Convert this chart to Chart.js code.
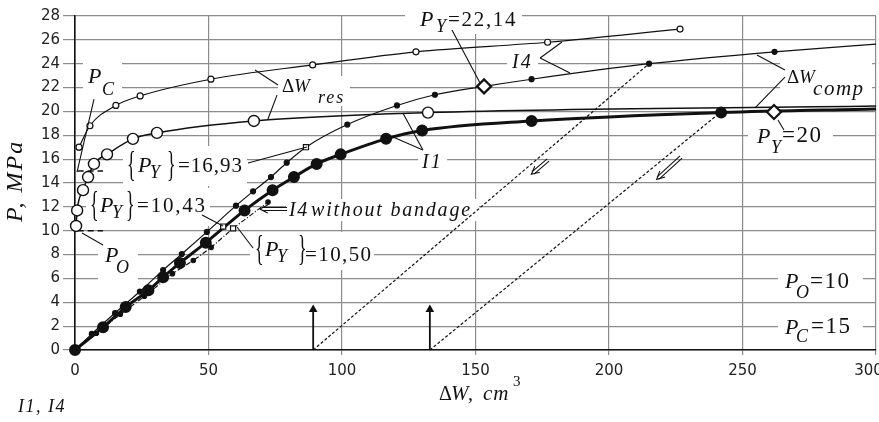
<!DOCTYPE html>
<html>
<head>
<meta charset="utf-8">
<script src="https://cdn.jsdelivr.net/npm/chart.js@4.4.1/dist/chart.umd.min.js"></script>
<style>
  html, body { margin: 0; padding: 0; background: #fff; }
  canvas { display: block; }
</style>
</head>
<body>
<canvas id="chart" width="879" height="422"></canvas>
<script>
// ΔW_res curve (small open circles)
const resX = [1.5, 5.6, 15.3, 24.4, 50.9, 89, 127.7, 177, 226.6];
const resY = [17.0, 18.8, 20.5, 21.3, 22.7, 23.9, 25.0, 25.8, 26.9];

// ΔW_comp curve (large open circles)
const compX = [0.4, 0.8, 3, 4.9, 7.1, 12, 21.7, 30.7, 67, 132.2, 300];
const compY = [10.4, 11.7, 13.4, 14.5, 15.6, 16.4, 17.7, 18.2, 19.2, 19.9, 20.45];

// I1 (thick, large dots)
const i1X = [0, 10.5, 19, 27.5, 33, 39.3, 49, 63.5, 74, 82, 90.5, 99.5, 116.5, 130, 171, 242, 300];
const i1Y = [0, 1.9, 3.6, 5.0, 6.1, 7.3, 9.0, 11.7, 13.4, 14.5, 15.6, 16.4, 17.7, 18.4, 19.2, 19.9, 20.2];

// I4 (thin, small dots)
const i4X = [0, 6.3, 15, 24.3, 33, 40, 49.4, 60.3, 66.7, 73.4, 79.3, 86.5, 102, 120.6, 134.8, 153.2, 171, 215, 262, 300];
const i4Y = [0, 1.35, 3.1, 4.9, 6.7, 8.05, 9.9, 12.1, 13.3, 14.5, 15.7, 17.0, 18.9, 20.5, 21.4, 22.1, 22.7, 24.0, 25.0, 25.65];

// I4 without bandage (dash-dot)
const nbX = [0, 8, 17, 26, 36.5, 44.3, 51, 59.2, 72.3];
const nbY = [0, 1.4, 3.0, 4.5, 6.4, 7.5, 8.6, 10.2, 12.4];

// unloading lines
const unl1X = [89.2, 215], unl1Y = [0, 24.0];
const unl2X = [132.9, 241.6], unl2Y = [0, 19.9];
const markX = [89.2, 132.9];
const markTop = 3.4;

// {P_Y} squares and P_Y diamonds
const sqX = [55.5, 59.2, 86.5], sqY = [10.35, 10.2, 17.0];
const pyX = [153.2, 261.8], pyY = [22.1, 19.95];

// P_O, P_C levels
const pO = 10, pC = 15;

const xTicks = [0, 50, 100, 150, 200, 250, 300];
const yTicks = [0, 2, 4, 6, 8, 10, 12, 14, 16, 18, 20, 22, 24, 26, 28];

const pts = (xs, ys) => xs.map((x, i) => ({ x, y: ys[i] }));

const SERIF = '"Liberation Serif", "DejaVu Serif", serif';
const fP = 'italic 22px ' + SERIF;
const fS = 'italic 18px ' + SERIF;
const fN = '21px ' + SERIF;
const fN2 = '23px ' + SERIF;
const fB = '36px ' + SERIF;
const fI = 'italic 20px ' + SERIF;

// text notes: anchor in data coords, background box and pieces in px offsets
// piece: [text, font, dx, dy, xscale, letterSpacing]
const notes = [
  { at: [4.87, 22.38], bg: [-5, -23, 34, 14], segs: [['P', fP, 0, 0], ['C', fS, 14, 12]] },
  { at: [11.24, 7.38], bg: [-7, -26, 33, 20], segs: [['P', fP, 0, 0], ['O', fS, 11, 11]] },
  { at: [77.53, 21.63], bg: [-4, -16, 68, 14], segs: [['Δ', '19px ' + SERIF, 0, 0], ['W', 'italic 19px ' + SERIF, 12, 0], ['res', fS, 36, 11, 0, 2]] },
  { at: [129.2, 27.16], bg: [-15, -22, 102, 8], segs: [['P', fP, 0, 0], ['Y', fS, 16, 6], ['=22,14', fN, 28, 0, 0, 1.7]] },
  { at: [163.7, 23.64], bg: [-5, -16, 26, 4], segs: [['I4', fI, 0, 0, 0, 2]] },
  { at: [266.7, 22.38], bg: [-7, -25, 85, 15], segs: [['Δ', '19px ' + SERIF, 0, 0], ['W', 'italic 19px ' + SERIF, 12, 0], ['comp', 'italic 21px ' + SERIF, 26, 12, 0, 1.5]] },
  { at: [255.4, 17.35], bg: [-9, -21, 76, 13], segs: [['P', fP, 0, 0], ['Y', fS, 14, 10], ['=20', fN2, 25, -1, 0, 1.5]] },
  { at: [130.0, 15.26], bg: [-4, -22, 25, 4], segs: [['I1', fI, 0, 0, 0, 2]] },
  { at: [19.48, 14.92], bg: [-4, -26, 120, 14], segs: [['{', fB, 0, 4, 0.5], ['P', fP, 11, 0], ['Y', fS, 23, 6], ['}', fB, 40, 4, 0.5], ['=16,93', fN, 51, 0, 0, 1]] },
  { at: [5.62, 11.57], bg: [-4, -24, 120, 14], segs: [['{', fB, 0, 4, 0.5], ['P', fP, 10, 0], ['Y', fS, 22, 6], ['}', fB, 36, 4, 0.5], ['=10,43', fN, 47, 0, 0, 1.8]] },
  { at: [67.42, 7.88], bg: [-5, -24, 119, 14], segs: [['{', fB, 0, 4, 0.5], ['P', fP, 10, 0], ['Y', fS, 22, 6], ['}', fB, 43, 4, 0.5], ['=10,50', fN, 50, 5, 0, 1.4]] },
  { at: [80.15, 11.23], bg: [-3, -17, 190, 5], segs: [['I4', fI, 0, 0, 0, 1.5], ['without bandage', 'italic 20px ' + SERIF, 22, 0, 0, 1.8]] },
  { at: [265.9, 5.2], bg: [-7, -22, 78, 12], segs: [['P', fP, 0, 0], ['O', fS, 11, 10], ['=10', fN2, 25, 0, 0, 1.5]] },
  { at: [265.9, 1.34], bg: [-7, -22, 78, 12], segs: [['P', fP, 0, 0], ['C', fS, 11, 8], ['=15', fN2, 26, -1, 0, 1.5]] },
  { at: [136.3, -4.19], segs: [['Δ', '20px ' + SERIF, 0, 0], ['W', 'italic 21px ' + SERIF, 12, 0], [',', fI, 29, 0], ['cm', 'italic 21px ' + SERIF, 44, 0, 0, 1]] },
  { at: [136.3, -4.19], segs: [['3', '15px ' + SERIF, 74, -14]] },
  { at: [-21.35, -5.2], segs: [['I1, I4', fS, 0, 0, 0, 1.5]] }
];

const leaders = [
  [[7.12, 21.04], [0.75, 14.92]],
  [[2.62, 9.81], [10.49, 8.8]],
  [[76.03, 22.21], [67.42, 23.47]],
  [[75.66, 21.37], [72.28, 19.36]],
  [[141.2, 26.82], [151.7, 22.38]],
  [[174.2, 24.48], [182.4, 25.82]],
  [[174.2, 24.48], [185.4, 23.22]],
  [[265.9, 23.47], [255.4, 24.73]],
  [[265.9, 22.88], [254.7, 20.29]],
  [[263.3, 19.28], [265.5, 18.44]],
  [[130.3, 16.76], [122.8, 19.87]],
  [[130.3, 16.76], [119.1, 17.85]],
  [[64.79, 15.67], [86.89, 17.02]],
  [[47.57, 11.32], [55.43, 10.39]],
  [[66.67, 8.55], [60.67, 10.31]]
];

const arrows = [
  [[79.4, 11.82], [70.0, 11.82]],
  [[177.2, 15.93], [171.5, 14.84]],
  [[227.0, 16.18], [218.4, 14.42]]
];

const toPx = (chart, p) => [chart.scales.x.getPixelForValue(p[0]), chart.scales.y.getPixelForValue(p[1])];

const notesPlugin = {
  id: 'notes',
  beforeDatasetsDraw(chart) {
    const ctx = chart.ctx;
    ctx.save();
    ctx.fillStyle = '#fff';
    notes.forEach(n => {
      if (!n.bg) return;
      const [ax, ay] = toPx(chart, n.at);
      ctx.fillRect(ax + n.bg[0], ay + n.bg[1], n.bg[2] - n.bg[0], n.bg[3] - n.bg[1]);
    });
    ctx.restore();
  },
  afterDatasetsDraw(chart) {
    const ctx = chart.ctx;
    ctx.save();
    ctx.strokeStyle = '#111';
    ctx.lineWidth = 1.1;
    leaders.forEach(([a, b]) => {
      const p = toPx(chart, a), q = toPx(chart, b);
      ctx.beginPath(); ctx.moveTo(p[0], p[1]); ctx.lineTo(q[0], q[1]); ctx.stroke();
    });
    arrows.forEach(([a, b]) => {
      const p = toPx(chart, a), q = toPx(chart, b);
      const ang = Math.atan2(q[1] - p[1], q[0] - p[0]);
      const nx = -Math.sin(ang) * 1.5, ny = Math.cos(ang) * 1.5;
      ctx.beginPath();
      ctx.moveTo(p[0] + nx, p[1] + ny); ctx.lineTo(q[0] + nx, q[1] + ny);
      ctx.moveTo(p[0] - nx, p[1] - ny); ctx.lineTo(q[0] - nx, q[1] - ny);
      ctx.stroke();
      ctx.beginPath();
      ctx.moveTo(q[0] - Math.cos(ang - 0.6) * 7, q[1] - Math.sin(ang - 0.6) * 7);
      ctx.lineTo(q[0] + Math.cos(ang) * 2, q[1] + Math.sin(ang) * 2);
      ctx.lineTo(q[0] - Math.cos(ang + 0.6) * 7, q[1] - Math.sin(ang + 0.6) * 7);
      ctx.stroke();
    });
    ctx.fillStyle = '#111';
    ctx.textAlign = 'left';
    ctx.textBaseline = 'alphabetic';
    notes.forEach(n => {
      const [ax, ay] = toPx(chart, n.at);
      n.segs.forEach(([t, f, dx, dy, sx, ls]) => {
        ctx.save();
        ctx.font = f;
        ctx.letterSpacing = (ls || 0) + 'px';
        ctx.translate(ax + dx, ay + dy);
        if (sx) ctx.scale(sx, 1);
        ctx.fillText(t, 0, 0);
        ctx.restore();
      });
    });
    // y axis title
    const [tx, ty] = toPx(chart, [-22.1, 14.17]);
    ctx.translate(tx, ty);
    ctx.rotate(-Math.PI / 2);
    ctx.font = 'italic 24px ' + SERIF;
    ctx.letterSpacing = '2px';
    ctx.textAlign = 'center';
    ctx.textBaseline = 'middle';
    ctx.fillText('P, MPa', 0, 0);
    ctx.restore();
  }
};

const line = (data, extra) => Object.assign({
  data, showLine: true, clip: false, borderColor: '#111', pointBorderColor: '#111',
  borderWidth: 1.2, pointRadius: 0, pointHoverRadius: 0
}, extra);

const datasets = [
  line(pts(pyX, pyY), { showLine: false, pointStyle: 'rectRot', pointRadius: 7, pointBackgroundColor: '#fff', pointBorderWidth: 2.2 }),
  line(pts(sqX, sqY), { showLine: false, pointStyle: 'rect', pointRadius: 3.6, pointBackgroundColor: '#fff', pointBorderWidth: 1.2 }),
  line(pts(i1X, i1Y), { borderWidth: 3, cubicInterpolationMode: 'monotone', pointRadius: i1X.map(x => x === 300 ? 0 : 4.5), pointBackgroundColor: '#111' }),
  line(pts(compX, compY), { borderWidth: 1.5, cubicInterpolationMode: 'monotone', pointRadius: compX.map(x => x === 300 ? 0 : 5.5), pointBackgroundColor: '#fff', pointBorderWidth: 1.4 }),
  line(pts(i4X, i4Y), { cubicInterpolationMode: 'monotone', pointRadius: i4X.map(x => (x === 86.5 || x === 153.2 || x === 300) ? 0 : 2.5), pointBackgroundColor: '#111' }),
  line(pts(resX, resY), { cubicInterpolationMode: 'monotone', pointRadius: 3, pointBackgroundColor: '#fff', pointBorderWidth: 1.2 }),
  line(pts(nbX, nbY), { borderDash: [5, 2, 1, 2], pointRadius: nbX.map(x => x === 59.2 ? 0 : 2.2), pointBackgroundColor: '#111' }),
  line(pts(unl1X, unl1Y), { borderDash: [3, 2] }),
  line(pts(unl2X, unl2Y), { borderDash: [3, 2] }),
  ...markX.map(x => line(pts([x, x], [0, markTop]), { borderWidth: 1.8, pointStyle: 'triangle', pointRadius: [0, 3.2], pointBackgroundColor: '#111' })),
  line(pts([1, 10.5], [pC, pC]), { borderDash: [6, 4], borderWidth: 1.4 }),
  line(pts([1, 10.5], [pO, pO]), { borderDash: [6, 4], borderWidth: 1.4 })
];

const tickFont = { family: '"DejaVu Sans", sans-serif', size: 15 };

new Chart(document.getElementById('chart'), {
  type: 'scatter',
  data: { datasets },
  options: {
    responsive: false,
    animation: false,
    devicePixelRatio: 1,
    layout: { autoPadding: false, padding: { top: 16, right: 3, left: 0, bottom: 0 } },
    plugins: { legend: { display: false }, tooltip: { enabled: false } },
    scales: {
      x: {
        type: 'linear', min: 0, max: 300,
        afterBuildTicks: s => { s.ticks = xTicks.map(v => ({ value: v })); },
        ticks: { color: '#222', font: tickFont, padding: 7, maxRotation: 0,
          callback: v => v === 300 ? '300\u2002\u2002' : String(v) },
        grid: { color: '#8c8c8c', lineWidth: 1.2, tickLength: 5 },
        border: { color: '#111', width: 1.6 },
        afterFit: s => { s.height = 72; s.paddingRight = 0; s.paddingLeft = 0; }
      },
      y: {
        min: 0, max: 28,
        afterBuildTicks: s => { s.ticks = yTicks.map(v => ({ value: v })); },
        ticks: { color: '#222', font: tickFont, padding: 3 },
        grid: { color: '#8c8c8c', lineWidth: 1.2, tickLength: 12 },
        border: { color: '#111', width: 1.6 },
        afterFit: s => { s.width = 75; }
      }
    }
  },
  plugins: [notesPlugin]
});
</script>
</body>
</html>
